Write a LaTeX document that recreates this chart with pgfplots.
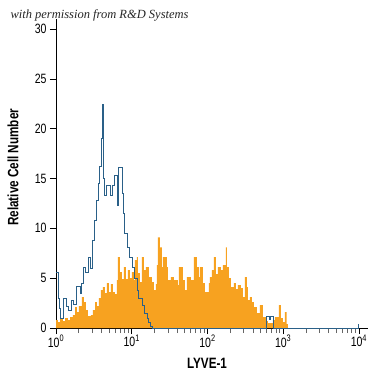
\documentclass[border=0pt]{standalone}
\usepackage{fontspec}
\setmainfont{Liberation Sans}[FakeStretch=0.78]
\newfontfamily\creditfont{Liberation Serif}
\usepackage{pgfplots}
\pgfplotsset{compat=1.18}
\definecolor{historange}{RGB}{247,162,32}
\definecolor{histblue}{RGB}{42,96,136}
\begin{document}
\begin{tikzpicture}[x=1pt,y=1pt]
\useasboundingbox (0,0) rectangle (375,375);
\begin{axis}[
  at={(56pt,47pt)}, anchor=south west,
  scale only axis, width=312pt, height=309pt,
  xmin=0, xmax=4.12, ymin=0, ymax=31,
  axis x line*=bottom, axis y line*=left,
  axis line style={black, line width=1pt},
  xtick={0,1,2,3,4},
  xticklabels={10\textsuperscript{0},10\textsuperscript{1},10\textsuperscript{2},10\textsuperscript{3},10\textsuperscript{4}},
  minor xtick={0.301,0.477,0.602,0.699,0.778,0.845,0.903,0.954,
               1.301,1.477,1.602,1.699,1.778,1.845,1.903,1.954,
               2.301,2.477,2.602,2.699,2.778,2.845,2.903,2.954,
               3.301,3.477,3.602,3.699,3.778,3.845,3.903,3.954},
  ytick={0,5,10,15,20,25,30},
  tick align=outside,
  major tick length=6pt, minor tick length=5pt,
  major tick style={black, line width=0.6pt},
  minor tick style={black!60, line width=0.6pt},
  /pgf/number format/assume math mode=true,
  tick label style={font=\fontsize{13.5}{13.5}\selectfont, text=black},
  xticklabel style={inner sep=1pt},
  xlabel={LYVE-1}, ylabel={Relative Cell Number},
  label style={font=\fontsize{15}{15}\selectfont\bfseries},
  xlabel style={at={(axis description cs:0.484,-0.115)}, anchor=center, inner sep=1pt},
  ylabel style={at={(axis description cs:-0.138,0.52)}, anchor=center, rotate=0},
  clip=false,
]
\addplot[const plot mark left, fill=historange, draw=none] table {
x y
0.000 0.8
0.026 0.6
0.053 1.0
0.092 0.7
0.119 1.0
0.158 0.8
0.185 1.1
0.224 1.3
0.251 2.1
0.277 1.6
0.303 2.2
0.343 3.1
0.369 2.6
0.396 1.8
0.422 1.2
0.462 1.3
0.488 1.8
0.515 2.6
0.541 2.2
0.567 3.0
0.594 3.8
0.620 4.1
0.646 3.5
0.673 4.5
0.699 3.6
0.725 4.4
0.752 3.6
0.778 3.4
0.805 4.8
0.818 7.1
0.844 5.6
0.871 4.9
0.897 6.1
0.923 4.9
0.950 5.8
0.976 5.0
1.003 5.6
1.029 4.8
1.042 6.8
1.069 7.1
1.082 5.5
1.108 4.6
1.135 7.1
1.148 7.1
1.161 5.8
1.188 6.1
1.227 5.1
1.266 4.6
1.293 3.8
1.319 4.4
1.332 6.3
1.346 9.1
1.372 8.1
1.398 6.1
1.412 7.1
1.464 6.1
1.478 4.8
1.517 5.1
1.557 4.8
1.609 4.3
1.623 6.1
1.675 4.8
1.702 3.8
1.728 5.1
1.781 4.8
1.821 7.1
1.860 6.1
1.887 5.1
1.900 6.1
1.939 4.5
1.966 3.6
2.018 4.5
2.032 5.1
2.058 5.8
2.084 7.1
2.111 5.4
2.137 6.1
2.177 5.8
2.203 6.3
2.243 8.1
2.256 6.1
2.282 5.0
2.309 4.1
2.348 4.5
2.374 3.9
2.401 4.3
2.440 4.0
2.467 3.1
2.493 5.1
2.520 4.1
2.533 2.8
2.559 3.1
2.586 2.6
2.612 2.1
2.652 1.5
2.691 2.3
2.731 1.1
2.770 0.7
2.797 0.5
2.863 0.8
2.889 1.1
2.942 2.3
2.968 1.0
2.995 0.6
3.021 1.6
3.047 0.4
3.061 0
} \closedcycle;
\addplot[const plot mark left, draw=histblue, line width=0.9pt, mark=none] table {
x y
0.000 5.6
0.026 3.0
0.040 2.0
0.053 1.0
0.092 3.0
0.132 2.2
0.158 1.8
0.198 2.8
0.224 2.4
0.264 4.2
0.317 3.5
0.330 4.5
0.356 6.1
0.383 5.6
0.422 7.1
0.449 6.0
0.475 8.8
0.502 10.8
0.528 12.8
0.554 14.5
0.580 16.2
0.594 19.0
0.607 22.4
0.620 19.2
0.633 15.0
0.646 13.3
0.660 14.3
0.725 13.3
0.739 14.3
0.778 15.3
0.818 12.3
0.831 16.1
0.871 15.1
0.884 13.5
0.897 11.5
0.910 9.5
0.950 8.1
0.976 7.1
1.016 6.1
1.042 5.0
1.082 3.8
1.095 3.0
1.135 2.3
1.174 1.5
1.201 1.0
1.227 0.6
1.253 0.2
1.280 0
2.784 1.2
2.823 0.9
2.837 1.2
2.876 0
4.000 0.4
};
\end{axis}
\node[anchor=west, font=\creditfont\itshape\fontsize{12.5}{13}\selectfont, text=black!85] at (7,360) {with permission from R\&D Systems};
\end{tikzpicture}
\end{document}
